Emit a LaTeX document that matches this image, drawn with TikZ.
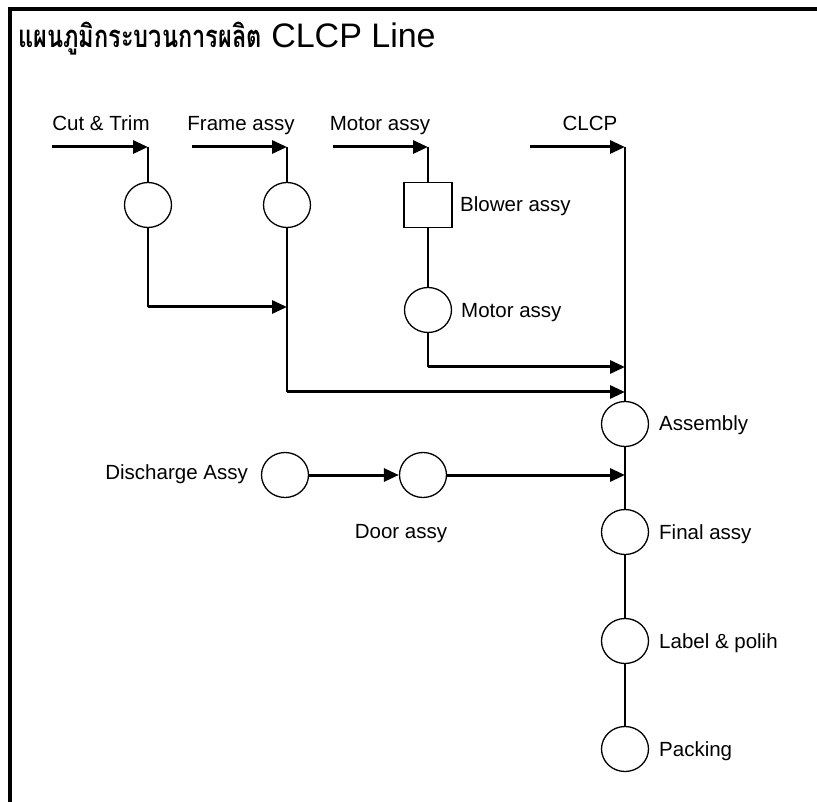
\documentclass[tikz,border=0pt]{standalone}
\usepackage{fontspec}
\setmainfont{Liberation Sans}
\newfontfamily\thaifont[Script=Thai, FakeStretch=0.76]{Loma}
\usepackage{tikz}
\usetikzlibrary{calc,arrows.meta,shapes.geometric}
\definecolor{ink}{HTML}{000000}
\tikzset{
  frame/.style={draw=ink, line width=3.5pt},
  flow/.style={draw=ink, line width=3pt, -{Triangle[length=15pt,width=13pt]}},
  link/.style={draw=ink, line width=1.5pt},
  proc/.style={ellipse, draw=ink, line width=1.3pt, minimum width=47pt, minimum height=45pt, inner sep=0pt},
  subbox/.style={rectangle, draw=ink, line width=1.3pt, minimum width=48pt, minimum height=45pt, inner sep=0pt},
  lab/.style={text=ink, font=\fontsize{20.5}{24}\selectfont, inner sep=0pt, anchor=base},
  labr/.style={lab, anchor=base west},
}

\begin{document}
\begin{tikzpicture}[x=1pt, y=-1pt]
  \useasboundingbox (0,0) rectangle (817,802);
  \draw[frame] (817,9) -- (10,9) -- (10,802);
  \node[lab, anchor=base west, font=\fontsize{34}{38}\selectfont] (title) at (18,48)
    {{\thaifont\bfseries\fontsize{31}{36}\selectfont แผนภูมิกระบวนการผลิต} CLCP Line};
  % input arrows
  \coordinate (s1) at (52,147);  \coordinate (t1) at (148,147);
  \coordinate (s2) at (192,147); \coordinate (t2) at (287,147);
  \coordinate (s3) at (333,147); \coordinate (t3) at (428,147);
  \coordinate (s4) at (530,147); \coordinate (t4) at (625,147);
  \node[lab] (cutlab) at (101,131) {Cut \& Trim};
  \node[lab] (framelab) at (241,131) {Frame assy};
  \node[lab] (motorlab) at (380,131) {Motor assy};
  \node[lab] (clcplab) at (590,131) {CLCP};
  \draw[flow] (s1) -- (t1);
  \draw[flow] (s2) -- (t2);
  \draw[flow] (s3) -- (t3);
  \draw[flow] (s4) -- (t4);
  % sub-assemblies
  \node[proc] (cut) at (148,205) {};
  \node[proc] (frm) at (287,205) {};
  \node[subbox] (blower) at (428,205) {};
  \node[proc] (motor) at (428,310) {};
  \node[labr] (blowerlab) at (460,212) {Blower assy};
  \node[labr] (motorlab2) at (461,318) {Motor assy};
  \draw[link] (t1) -- (cut);
  \draw[link] (t2) -- (frm);
  \draw[link] (t3) -- (blower);
  \draw[link] (blower) -- (motor);
  % joins
  \coordinate (b1) at (148,307); \coordinate (k1) at (287,307);
  \coordinate (b2) at (287,392); \coordinate (j2) at (625,392);
  \coordinate (b3) at (428,367); \coordinate (j1) at (625,367);
  \draw[link] (cut) -- (b1);
  \draw[flow] (b1) -- (k1);
  \draw[link] (frm) -- (b2);
  \draw[flow] (b2) -- (j2);
  \draw[link] (motor) -- (b3);
  \draw[flow] (b3) -- (j1);
  % main line
  \node[proc] (asm) at (625,424) {};
  \node[proc] (fin) at (625,532) {};
  \node[proc] (lbl) at (625,641) {};
  \node[proc] (pack) at (625,749) {};
  \node[labr] (asmlab) at (659,431) {Assembly};
  \node[labr] (finlab) at (659,539) {Final assy};
  \node[labr] (lbllab) at (659,648) {Label \& polih};
  \node[labr] (packlab) at (659,756) {Packing};
  \draw[link] (t4) -- (asm);
  \draw[link] (asm) -- (fin);
  \draw[link] (fin) -- (lbl);
  \draw[link] (lbl) -- (pack);
  % door line
  \node[proc] (dis) at (285,475) {};
  \node[proc] (door) at (423,475) {};
  \coordinate (j3) at (625,475);
  \node[lab, anchor=base east] (dislab) at (248,479) {Discharge Assy};
  \node[lab] (doorlab) at (401,538) {Door assy};
  \draw[flow] (dis) -- (door);
  \draw[flow] (door) -- (j3);
\end{tikzpicture}
\end{document}
